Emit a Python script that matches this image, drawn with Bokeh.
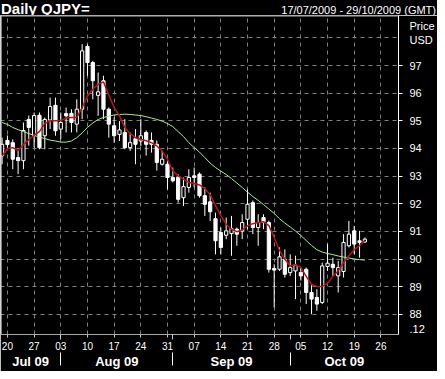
import numpy as np
import pandas as pd
from bokeh.plotting import figure
from bokeh.layouts import column
from bokeh.models import (Range1d, LinearAxis, FixedTicker, PolyAnnotation, Div,
                          Span, ColumnDataSource, Grid)
from bokeh.embed import file_html
from bokeh.resources import INLINE

# ---------------- data ----------------
title_text = "Daily QJPY="
range_text = "17/07/2009 - 29/10/2009 (GMT)"
first_day = "2009-07-17"
last_day = "2009-10-29"

opens = [93.73, 94.29, 94.21, 93.67, 93.56, 95.05, 94.47, 95.20, 94.46, 95.03,
         95.56, 94.70, 95.26, 95.27, 94.88, 95.42, 97.69, 97.11, 95.92, 96.45,
         95.42, 94.82, 94.51, 94.58, 94.03, 94.36, 94.27, 94.58, 94.29, 94.15,
         93.43, 93.43, 92.95, 92.95, 92.22, 92.59, 93.01, 93.07, 92.29, 92.07,
         91.46, 90.96, 90.86, 90.92, 91.08, 91.02, 91.44, 92.04, 91.14, 91.50,
         91.32, 89.66, 89.63, 89.99, 89.51, 89.57, 89.51, 89.63, 88.79, 88.61,
         88.43, 89.73, 89.81, 89.39, 89.55, 90.48, 91.02, 90.66, 90.62]
highs = [94.39, 94.47, 94.33, 93.92, 94.94, 95.19, 95.30, 95.30, 95.12, 95.84,
         95.84, 95.30, 95.48, 95.42, 95.78, 97.77, 97.77, 97.17, 96.75, 96.63,
         95.48, 95.12, 94.99, 95.06, 94.58, 94.70, 95.06, 94.65, 94.58, 94.29,
         93.92, 93.56, 93.31, 93.07, 92.95, 93.25, 93.31, 93.13, 92.59, 92.40,
         91.68, 91.14, 91.50, 91.56, 91.14, 91.62, 92.52, 92.12, 91.62, 91.62,
         91.39, 89.81, 90.42, 90.35, 90.17, 90.12, 89.69, 89.69, 89.09, 88.91,
         89.87, 90.54, 90.05, 89.93, 90.90, 91.38, 91.20, 91.02, 90.78]
lows = [93.43, 94.03, 93.25, 93.07, 93.25, 94.10, 94.03, 93.97, 93.97, 94.70,
        94.46, 94.33, 94.58, 94.58, 94.58, 95.06, 96.63, 95.78, 95.18, 95.06,
        94.39, 94.21, 94.27, 93.97, 93.91, 93.43, 94.09, 93.74, 93.85, 93.20,
        93.38, 92.52, 92.77, 92.04, 91.92, 92.40, 92.59, 92.22, 91.56, 91.38,
        90.17, 90.17, 90.72, 90.12, 90.48, 90.72, 91.08, 90.90, 90.48, 91.08,
        89.51, 88.25, 89.57, 89.33, 89.39, 88.55, 89.22, 88.37, 88.00, 88.13,
        88.37, 89.57, 89.39, 88.79, 89.33, 90.42, 90.17, 90.05, 90.58]
closes = [94.15, 94.14, 93.61, 93.56, 94.65, 94.76, 95.19, 94.03, 95.05, 95.52,
          94.64, 94.94, 95.18, 94.94, 95.42, 97.53, 97.11, 96.45, 96.05, 95.42,
          94.88, 94.46, 94.67, 94.03, 94.21, 94.15, 94.46, 94.15, 94.15, 93.49,
          93.61, 92.95, 92.83, 92.16, 92.62, 92.95, 92.95, 92.29, 91.98, 91.71,
          90.66, 90.42, 91.02, 91.10, 90.90, 91.32, 91.98, 91.14, 91.32, 91.32,
          89.63, 89.60, 90.08, 89.45, 89.69, 89.78, 89.39, 88.79, 88.55, 88.37,
          89.75, 89.85, 89.69, 89.69, 90.60, 90.90, 90.54, 90.60, 90.72]
ma_short = [93.73, 93.99, 94.03, 93.92, 94.14, 94.32, 94.47, 94.61, 94.90, 95.00,
            95.00, 95.01, 95.10, 95.12, 95.12, 95.48, 95.90, 96.14, 96.32, 96.41,
            95.93, 95.48, 95.18, 94.76, 94.54, 94.39, 94.33, 94.28, 94.21, 94.09,
            93.91, 93.61, 93.19, 93.01, 92.89, 92.77, 92.73, 92.68, 92.55, 92.33,
            91.93, 91.57, 91.26, 91.08, 90.99, 91.05, 91.20, 91.28, 91.32, 91.35,
            91.21, 90.78, 90.31, 89.99, 89.75, 89.80, 89.69, 89.37, 89.08, 89.01,
            89.01, 89.12, 89.37, 89.58, 89.87, 90.12, 90.34, 90.48, 90.67]
ma_long = [94.94, 94.87, 94.76, 94.68, 94.61, 94.54, 94.47, 94.41, 94.36, 94.30,
           94.27, 94.23, 94.23, 94.27, 94.39, 94.56, 94.76, 94.92, 95.05, 95.12,
           95.17, 95.21, 95.23, 95.24, 95.23, 95.21, 95.19, 95.15, 95.10, 95.05,
           94.99, 94.90, 94.79, 94.61, 94.43, 94.21, 94.03, 93.87, 93.67, 93.47,
           93.31, 93.18, 93.06, 92.91, 92.75, 92.59, 92.42, 92.26, 92.12, 91.97,
           91.81, 91.65, 91.46, 91.30, 91.16, 91.01, 90.85, 90.67, 90.49, 90.34,
           90.25, 90.20, 90.16, 90.11, 90.07, 90.04, 90.00, 89.98, 89.96]
price_ticks = [88, 89, 90, 91, 92, 93, 94, 95, 96, 97]
grid_levels = [88, 89, 90, 91, 92, 93, 94, 95, 96, 97, 98]
unit_lines = ["Price", "USD"]
corner_text = ".12"

# ---------------- layout ----------------
W = 437
HEAD = 15
H = 371 - HEAD
RIGHT, BOTTOM = 32, 37
frame_w = W - RIGHT
frame_h = H - BOTTOM
dates = pd.bdate_range(first_day, last_day)
n = len(opens)
idx = np.arange(n)
x0, x1 = -0.3, len(dates) - 0.7
y0, y1 = 87.27, 98.81
ppx = frame_w / (x1 - x0)
ppy = frame_h / (y1 - y0)


def ydata(page_y):
    # page pixel row -> price value (frame top sits at page row 23)
    return y1 - (page_y - 23) / ppy


FONT = "Liberation Sans"

head = Div(text=(
    f'<div style="display:flex;justify-content:space-between;align-items:baseline;'
    f'width:{W}px;height:{HEAD}px;background:#000;color:#fff;overflow:visible;'
    f'line-height:{HEAD + 2}px;">'
    f'<span style="font:bold 15px \'{FONT}\';padding-left:1px;">{title_text}</span>'
    f'<span style="font:11px \'{FONT}\';padding-right:1px;">{range_text}</span></div>'),
    width=W, height=HEAD, margin=0, styles={"background-color": "black"})

p = figure(width=W, height=H, x_range=Range1d(x0, x1), y_range=Range1d(y0, y1),
           x_axis_type=None, y_axis_location="right", output_backend="svg",
           toolbar_location=None, min_border_left=0, min_border_right=RIGHT,
           min_border_top=0, min_border_bottom=BOTTOM, margin=0,
           background_fill_color="black", border_fill_color="black",
           outline_line_color="#a8a8a8")

for g in p.ygrid:
    g.visible = False

day_ticks = [i for i, d in enumerate(dates) if d.weekday() == 0]
day_labels = {i: dates[i].strftime("%d") for i in day_ticks}
month_starts = [i for i in range(1, len(dates)) if dates[i].month != dates[i - 1].month]
bounds = [x0] + month_starts + [x1]
seg_first = [0] + month_starts
month_centers = [(a + b) / 2 for a, b in zip(bounds[:-1], bounds[1:])]
month_labels = {c: dates[k].strftime("%b %y") for c, k in zip(month_centers, seg_first)}

p.add_layout(Grid(dimension=0, ticker=FixedTicker(ticks=day_ticks),
                  grid_line_color="#808080", grid_line_dash="4 4"))
p.add_layout(Grid(dimension=1, ticker=FixedTicker(ticks=grid_levels),
                  grid_line_color="#808080", grid_line_dash="4 4"))

# candles
src = ColumnDataSource(dict(
    x=idx, l=lows, h=highs,
    top=np.maximum(opens, closes), bot=np.minimum(opens, closes),
    fill=["black" if c >= o else "white" for o, c in zip(opens, closes)]))
p.segment("x", "l", "x", "h", source=src, color="white", line_width=1)
p.vbar(x="x", top="top", bottom="bot", width=0.6, fill_color="fill",
       line_color="white", line_width=1, source=src)

p.line(idx, ma_long, color="#a4f088", line_width=1)
p.line(idx, ma_short, color="#b81414", line_width=1.5)

p.add_layout(Span(location=x0, dimension="height", line_color="white", line_width=2))
p.add_layout(Span(location=y1, dimension="width", line_color="#b0b0b0", line_width=2))

# x axes
ax_days = LinearAxis(ticker=FixedTicker(ticks=day_ticks, minor_ticks=month_starts),
                     major_label_overrides=day_labels, axis_line_color=None,
                     major_tick_in=0, major_tick_out=3, minor_tick_in=0, minor_tick_out=5,
                     major_tick_line_color="#c8c8c8", minor_tick_line_color="#c8c8c8",
                     major_label_text_color="white", major_label_text_font=FONT,
                     major_label_text_font_size="10px", major_label_standoff=2)
ax_months = LinearAxis(ticker=FixedTicker(ticks=month_centers, minor_ticks=month_starts),
                       major_label_overrides=month_labels, axis_line_color=None,
                       major_tick_in=0, major_tick_out=0, minor_tick_in=0, minor_tick_out=13,
                       minor_tick_line_color="white", major_label_text_color="white",
                       major_label_text_font=FONT, major_label_text_font_style="bold",
                       major_label_text_font_size="13px", major_label_standoff=-12)
p.add_layout(ax_days, "below")
p.add_layout(ax_months, "below")

# y axis (right): price ticks plus the unit caption and corner note as extra labels
unit_levels = [ydata(33), ydata(47.5)]
corner_level = ydata(336.5)
ay = p.yaxis[0]
ay.ticker = FixedTicker(ticks=price_ticks + unit_levels + [corner_level], minor_ticks=price_ticks)
overrides = {lv: t for lv, t in zip(unit_levels, unit_lines)}
overrides[corner_level] = corner_text
ay.major_label_overrides = overrides
ay.axis_line_color = "white"
ay.major_tick_in = 0
ay.major_tick_out = 0
ay.minor_tick_in = 0
ay.minor_tick_out = 4
ay.minor_tick_line_color = "white"
ay.major_label_text_color = "white"
ay.major_label_text_font = FONT
ay.major_label_text_font_size = "11px"
ay.major_label_standoff = 7
ay.major_label_text_align = "left"


# last-value diamonds on the price axis (in the side panel, so they are not clipped)
def diamond(cy, color):
    cx = x1 + 4.5 / ppx
    hx, hy = 4.5 / ppx, 4.5 / ppy
    p.add_layout(PolyAnnotation(xs=[cx - hx, cx, cx + hx, cx], ys=[cy, cy + hy, cy, cy - hy],
                                fill_color=color, fill_alpha=1, line_color=color), "right")

diamond(ma_short[-1], "#ff1a1a")
diamond(ma_long[-1], "#66ee44")

# status dot bottom right
ang = np.linspace(0, 2 * np.pi, 25)[:-1]
cx, cy = x1 + 30 / ppx, ydata(352.5)
p.add_layout(PolyAnnotation(xs=list(cx + 6 / ppx * np.cos(ang)), ys=list(cy + 6 / ppy * np.sin(ang)),
                            fill_color="#77ee55", fill_alpha=1, line_color="#77ee55"), "right")

layout = column(head, p, spacing=0, margin=0)
open("out.html", "w").write(file_html(layout, INLINE))
